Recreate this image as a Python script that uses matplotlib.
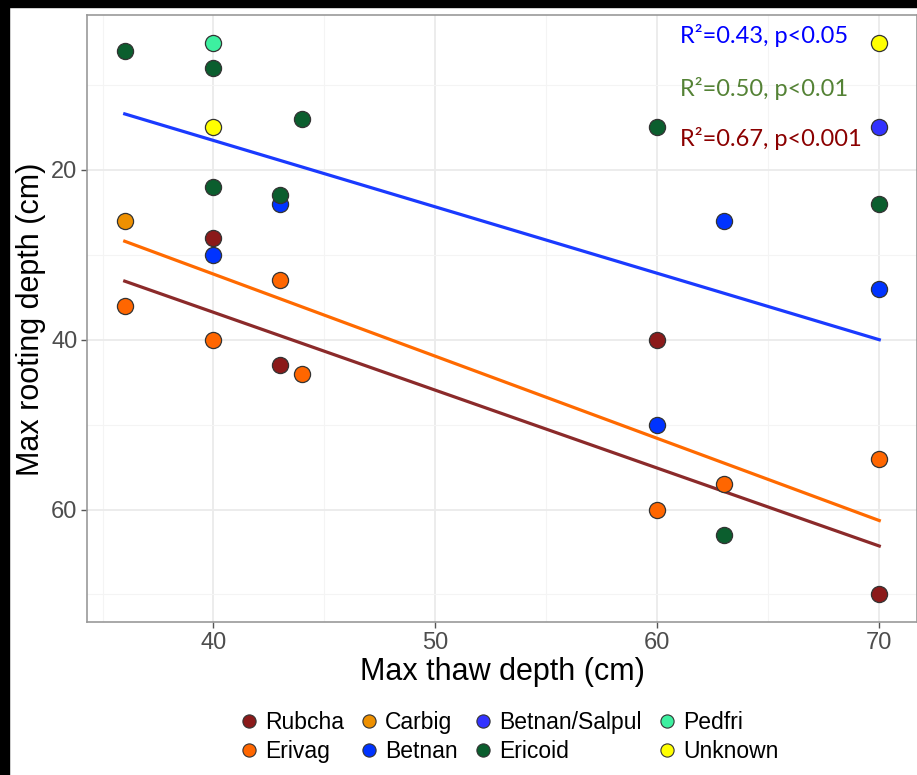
import matplotlib.pyplot as plt
from matplotlib.lines import Line2D
from matplotlib.patches import Rectangle
from matplotlib.ticker import MultipleLocator

# species groups (legend order, column-major like ggplot)
species = ['Rubcha', 'Erivag', 'Carbig', 'Betnan', 'Betnan/Salpul', 'Ericoid', 'Pedfri', 'Unknown']
colors = ['#8B1A1A', '#FF6600', '#EE9000', '#0033FF', '#3333FF', '#0B5E2E', '#3DF0A0', '#FFFF00']

# max thaw depth (x) and max rooting depth (y) per group
thaw = {
    'Rubcha': [40, 43, 60, 70],
    'Erivag': [36, 40, 43, 44, 60, 63, 70],
    'Carbig': [36],
    'Betnan': [40, 43, 60, 63, 70],
    'Betnan/Salpul': [70],
    'Ericoid': [36, 40, 40, 43, 44, 60, 63, 70],
    'Pedfri': [40],
    'Unknown': [40, 70],
}
rooting = {
    'Rubcha': [28, 43, 40, 70],
    'Erivag': [36, 40, 33, 44, 60, 57, 54],
    'Carbig': [26],
    'Betnan': [30, 24, 50, 26, 34],
    'Betnan/Salpul': [15],
    'Ericoid': [6, 8, 22, 23, 14, 15, 63, 24],
    'Pedfri': [5],
    'Unknown': [15, 5],
}

# fitted regression lines (end points)
fit_x = [36, 70]
fit_blue = [13.4, 40.0]
fit_orange = [28.4, 61.3]
fit_red = [33.1, 64.3]

stats = ['R\u00b2=0.43, p<0.05', 'R\u00b2=0.50, p<0.01', 'R\u00b2=0.67, p<0.001']
stat_colors = ['#0000FF', '#548235', '#8B0000']

fig = plt.figure(figsize=(9.17, 7.75), dpi=100)
ax = fig.add_axes([87 / 917, 1 - 622 / 775, 1 - 87 / 917, (622 - 15) / 775])

# grid like ggplot theme_bw
ax.xaxis.set_major_locator(MultipleLocator(10))
ax.xaxis.set_minor_locator(MultipleLocator(5))
ax.yaxis.set_major_locator(MultipleLocator(20))
ax.yaxis.set_minor_locator(MultipleLocator(10))
ax.grid(which='major', color='#EBEBEB', lw=1.3)
ax.grid(which='minor', color='#F4F4F4', lw=0.8)
ax.set_axisbelow(True)

ax.plot(fit_x, fit_blue, color='#1A3AFF', lw=2.3, zorder=2)
ax.plot(fit_x, fit_orange, color='#FF6A00', lw=2.3, zorder=2)
ax.plot(fit_x, fit_red, color='#8B2A2A', lw=2.3, zorder=2)

for sp, c in zip(species, colors):
    ax.scatter(thaw[sp], rooting[sp], s=135, color=c, edgecolor='#333333',
               linewidth=0.9, zorder=3)

ax.set_xlim(34.3, 71.7)
ax.set_ylim(73.25, 1.75)

for i, (txt, c) in enumerate(zip(stats, stat_colors)):
    ax.text(61.0, [4.2, 10.4, 16.3][i], txt, color=c, fontsize=17,
            family='Lato', va='center', ha='left')

for s in ax.spines.values():
    s.set_color('#999999')
    s.set_linewidth(1.2)
ax.tick_params(which='major', length=4, width=1, color='#555555',
               labelsize=17, labelcolor='#4D4D4D', pad=3)
ax.tick_params(which='minor', length=0)
for lab in ax.get_xticklabels() + ax.get_yticklabels():
    lab.set_family('Liberation Sans')

fig.text(502 / 917, 1 - 672 / 775, 'Max thaw depth (cm)', ha='center', va='center',
         fontsize=22, family='Liberation Sans')
fig.text(31 / 917, 1 - 319 / 775, 'Max rooting depth (cm)', ha='center', va='center',
         rotation=90, fontsize=22, family='Liberation Sans')

handles = [Line2D([], [], ls='none', marker='o', markersize=9.5, markerfacecolor=c,
                  markeredgecolor='#333333', markeredgewidth=0.8) for c in colors]
fig.legend(handles, species, ncol=4, loc='center', bbox_to_anchor=(508 / 917, 1 - 737 / 775),
           frameon=False, prop={'family': 'Liberation Sans', 'size': 16.5},
           handletextpad=0.2, columnspacing=0.6, labelspacing=0.3, handlelength=1.0)

# black strips at top and left of the screenshot
fig.patches.append(Rectangle((0, 1 - 7 / 775), 1, 7 / 775, transform=fig.transFigure,
                             color='black', zorder=10))
fig.patches.append(Rectangle((0, 0), 9 / 917, 1, transform=fig.transFigure,
                             color='black', zorder=10))

plt.savefig('out.png', dpi=100)
